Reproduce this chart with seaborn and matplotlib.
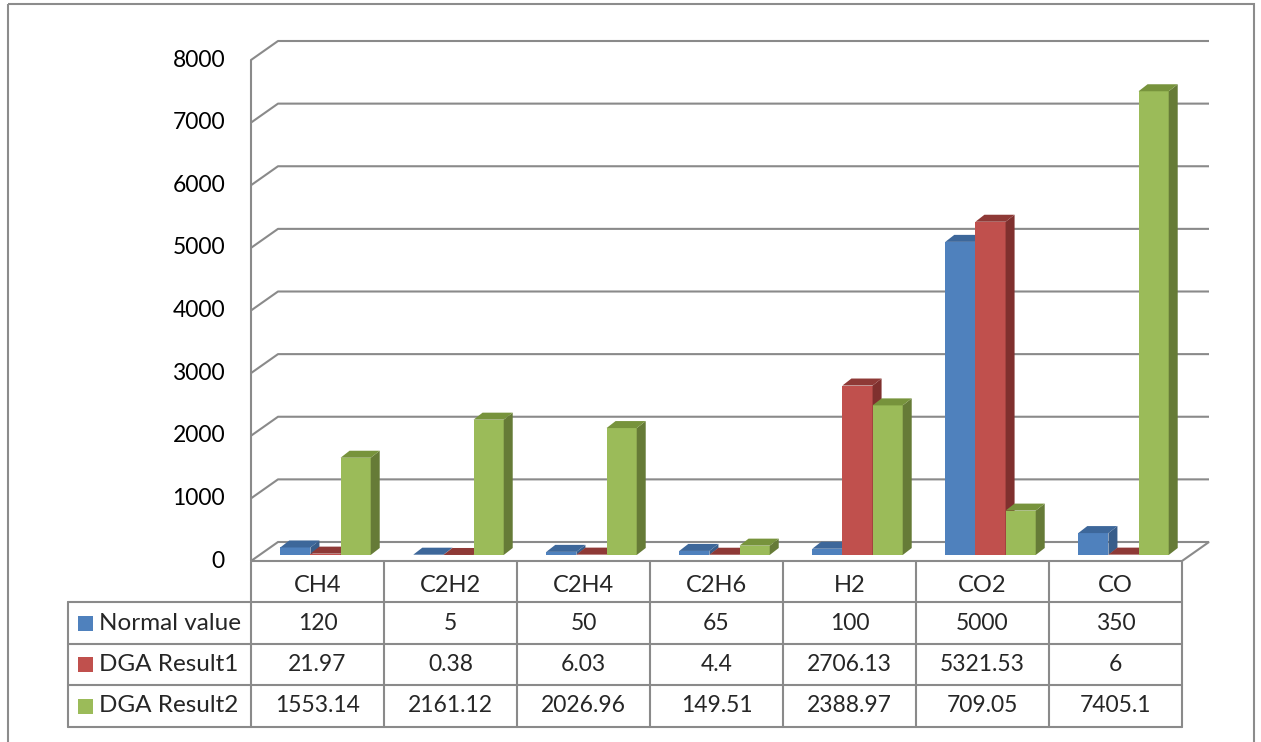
import matplotlib
matplotlib.use("Agg")
import matplotlib.pyplot as plt
from matplotlib.patches import Polygon, Rectangle
import pandas as pd
import seaborn as sns

gases = ["CH4", "C2H2", "C2H4", "C2H6", "H2", "CO2", "CO"]
series = ["Normal value", "DGA Result1", "DGA Result2"]
normal_value = [120, 5, 50, 65, 100, 5000, 350]
dga_result1 = [21.97, 0.38, 6.03, 4.4, 2706.13, 5321.53, 6]
dga_result2 = [1553.14, 2161.12, 2026.96, 149.51, 2388.97, 709.05, 7405.1]
table_text = [
    ["120", "5", "50", "65", "100", "5000", "350"],
    ["21.97", "0.38", "6.03", "4.4", "2706.13", "5321.53", "6"],
    ["1553.14", "2161.12", "2026.96", "149.51", "2388.97", "709.05", "7405.1"],
]
y_ticks = [0, 1000, 2000, 3000, 4000, 5000, 6000, 7000, 8000]

front = ["#4F81BD", "#C0504D", "#9BBB59"]
side = ["#385D8A", "#7F302E", "#667B37"]
top = ["#3D679A", "#8E3936", "#77933C"]
grid_c = "#8A8A8A"

sns.set_theme(style="white")
plt.rcParams["font.family"] = ["Lato", "DejaVu Sans"]

W, H = 1261, 742
fig = plt.figure(figsize=(W / 100, H / 100), dpi=100)

# pixel layout of the front plane of the plot
px_l, px_r, px_top, px_bot = 251, 1182, 60, 561
ax = fig.add_axes([px_l / W, 1 - px_bot / H, (px_r - px_l) / W, (px_bot - px_top) / H])

df = pd.DataFrame({
    "gas": gases * 3,
    "series": [s for s in series for _ in gases],
    "value": normal_value + dga_result1 + dga_result2,
})
sns.barplot(data=df, x="gas", y="value", hue="series", order=gases, hue_order=series,
            palette=front, saturation=1, width=0.68, linewidth=0, legend=False, ax=ax)
bars = list(ax.patches)
ax.set_xlim(-0.5, 6.5)
ax.set_ylim(0, 8000)
ax.axis("off")

sx = 7 / (px_r - px_l)         # data units per px, x
sy = 8000 / (px_bot - px_top)  # data units per px, y
DX, DY = 27 * sx, 19 * sy      # floor / wall depth
BDX, BDY = 9 * sx, 7 * sy      # bar depth
OX, OY = 8 * sx, 6 * sy        # bar offset into the floor

# floor and back-wall gridlines
floor = Polygon([(-0.5, 0), (6.5, 0), (6.5 + DX, DY), (-0.5 + DX, DY)], closed=True,
                facecolor="white", edgecolor=grid_c, lw=1.5, clip_on=False, zorder=0.5)
ax.add_patch(floor)
for v in y_ticks[1:]:
    ax.plot([-0.5, -0.5 + DX, 6.5 + DX], [v, v + DY, v + DY], color=grid_c, lw=1.5,
            clip_on=False, zorder=0.6, solid_capstyle="butt")
ax.plot([-0.5, -0.5], [0, 8000], color=grid_c, lw=1.5, clip_on=False, zorder=0.6)
for v in y_ticks:
    ax.text(-0.5 - 26 * sx, v, f"{v}", ha="right", va="center", fontsize=16.5, color="black")

# seaborn adds the bars hue by hue, one per category
for i, p in enumerate(bars):
    hi, ci = i // len(gases), i % len(gases)
    x0, w, h = p.get_x() + OX, p.get_width(), p.get_height()
    y0 = OY
    p.set_x(x0)
    p.set_y(y0)
    p.set_clip_on(False)
    z = 2 + ci * 0.1 + hi * 0.01
    p.set_zorder(z)
    ax.add_patch(Polygon([(x0 + w, y0), (x0 + w + BDX, y0 + BDY), (x0 + w + BDX, y0 + h + BDY), (x0 + w, y0 + h)],
                         closed=True, facecolor=side[hi], edgecolor="none", clip_on=False, zorder=z + 0.001))
    ax.add_patch(Polygon([(x0, y0 + h), (x0 + BDX, y0 + h + BDY), (x0 + w + BDX, y0 + h + BDY), (x0 + w, y0 + h)],
                         closed=True, facecolor=top[hi], edgecolor="none", clip_on=False, zorder=z + 0.002))

# data table below the chart (figure pixel coords)
tab = fig.add_axes([0, 0, 1, 1])
tab.set_xlim(0, W)
tab.set_ylim(H, 0)
tab.axis("off")
col_w = (px_r - px_l) / 7
rows_y = [602, 644, 685, 727]
lw_t = 1.5
for k in range(8):
    xk = px_l + k * col_w
    tab.plot([xk, xk], [562, rows_y[-1]], color=grid_c, lw=lw_t)
tab.plot([68, 68], [rows_y[0], rows_y[-1]], color=grid_c, lw=lw_t)
for ry in rows_y:
    tab.plot([68, px_r], [ry, ry], color=grid_c, lw=lw_t)
for k, g in enumerate(gases):
    tab.text(px_l + (k + 0.5) * col_w, 586, g, ha="center", va="center", fontsize=17)
for r, name in enumerate(series):
    cy = (rows_y[r] + rows_y[r + 1]) / 2
    tab.add_patch(Rectangle((78, cy - 7.5), 15, 15, facecolor=front[r], edgecolor="none"))
    tab.text(99, cy, name, ha="left", va="center", fontsize=17.5)
    for k in range(7):
        tab.text(px_l + (k + 0.5) * col_w, cy, table_text[r][k], ha="center", va="center", fontsize=16.5)

# outer chart border
tab.add_patch(Rectangle((8, 4), 1246, 800, facecolor="none", edgecolor="#8C8C8C", lw=1.5, clip_on=False))

fig.savefig("out.png", dpi=100)
